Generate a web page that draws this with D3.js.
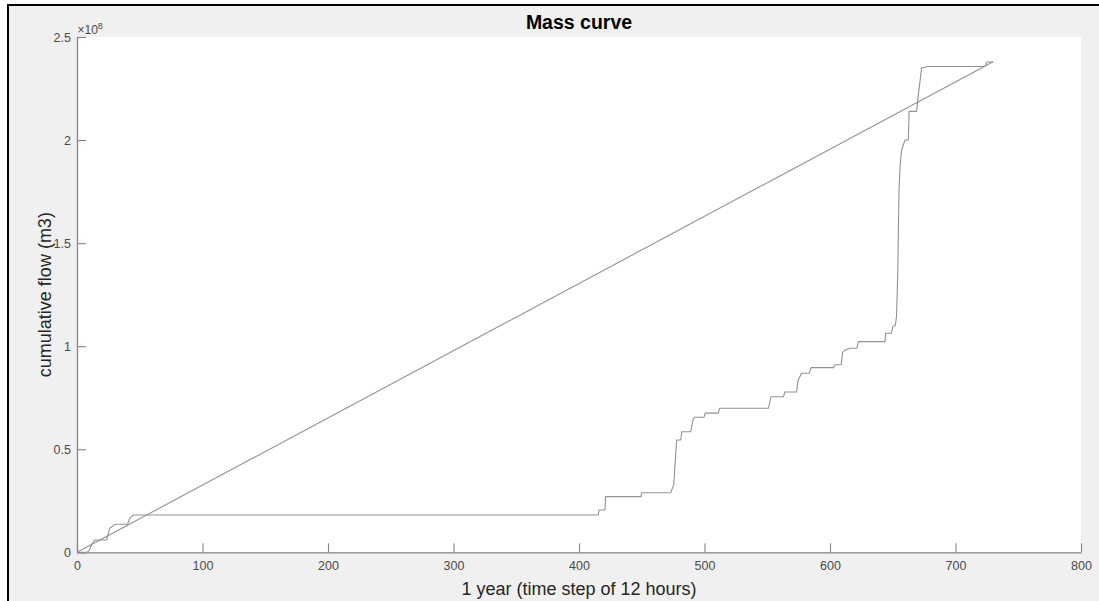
<!DOCTYPE html>
<html>
<head>
<meta charset="utf-8">
<script src="https://cdn.jsdelivr.net/npm/d3@7"></script>
<style>
  html, body { margin: 0; padding: 0; background: #ffffff; }
  svg { display: block; font-family: "Liberation Sans", Arial, Helvetica, sans-serif; }
</style>
</head>
<body>
<svg id="chart" width="1099" height="601"></svg>
<script>
// ---- data ----
const chartTitle = "Mass curve";
const xLabel = "1 year (time step of 12 hours)";
const yLabel = "cumulative flow (m3)";
const xTicks = [0, 100, 200, 300, 400, 500, 600, 700, 800];
const yTicks = [0, 0.5e8, 1e8, 1.5e8, 2e8, 2.5e8];
const yTickLabels = ["0", "0.5", "1", "1.5", "2", "2.5"];
const xDomain = [0, 800];
const yDomain = [0, 2.5e8];

// cumulative inflow (mass curve), time step index
const massStep = [0, 8, 10, 11.7, 14.3, 23.6, 26, 30.3, 40.3, 42, 44.9,
  415.4, 415.8, 420.7, 421.2, 449.4, 449.8, 473, 474.4, 475.5, 477.8,
  481, 482, 489, 491, 492, 499.6, 500.5, 511, 512, 551, 553, 563, 564,
  573.4, 574.5, 577.4, 583.5, 585, 603, 604, 609, 610, 612, 616, 621.5,
  622.5, 643.8, 644.3, 649, 650, 652, 653, 654, 655, 655.8, 657, 659.8,
  662.4, 663, 669, 670, 673, 678, 723.5, 725, 730];
const massFlow = [0, 0, 0.011e8, 0.039e8, 0.06e8, 0.06e8, 0.116e8, 0.136e8, 0.136e8, 0.165e8, 0.181e8,
  0.181e8, 0.205e8, 0.205e8, 0.27e8, 0.27e8, 0.289e8, 0.289e8, 0.31e8, 0.327e8, 0.545e8,
  0.545e8, 0.585e8, 0.585e8, 0.646e8, 0.655e8, 0.655e8, 0.675e8, 0.675e8, 0.699e8, 0.699e8, 0.755e8, 0.755e8, 0.778e8,
  0.778e8, 0.833e8, 0.869e8, 0.869e8, 0.896e8, 0.896e8, 0.91e8, 0.91e8, 0.97e8, 0.98e8, 0.99e8, 0.99e8,
  1.022e8, 1.022e8, 1.063e8, 1.063e8, 1.095e8, 1.1e8, 1.144e8, 1.354e8, 1.759e8, 1.87e8, 1.953e8, 2.0e8,
  2.0e8, 2.139e8, 2.139e8, 2.2e8, 2.35e8, 2.357e8, 2.357e8, 2.379e8, 2.379e8];

// uniform demand line
const demandStep = [0, 730];
const demandFlow = [0, 2.38e8];

// ---- layout ----
const svg = d3.select("#chart");
const W = 1099, H = 601;
const plot = { left: 77, right: 1081, top: 37, bottom: 552.3 };

// outer frame
svg.append("rect").attr("x", 0).attr("y", 0).attr("width", W).attr("height", H).attr("fill", "#ffffff");
svg.append("rect").attr("x", 8).attr("y", 5).attr("width", W - 8).attr("height", H - 5).attr("fill", "#f0f0f0");
svg.append("line").attr("x1", 8).attr("x2", W).attr("y1", 5).attr("y2", 5).attr("stroke", "#000").attr("stroke-width", 2);
svg.append("line").attr("x1", 8).attr("x2", 8).attr("y1", 4).attr("y2", H).attr("stroke", "#000").attr("stroke-width", 2);

// plot area
svg.append("rect").attr("x", plot.left).attr("y", plot.top)
  .attr("width", plot.right - plot.left).attr("height", plot.bottom - plot.top)
  .attr("fill", "#ffffff");

const x = d3.scaleLinear().domain(xDomain).range([plot.left, plot.right]);
const y = d3.scaleLinear().domain(yDomain).range([plot.bottom, plot.top]);

const axisColor = "#858585";
const tickTextColor = "#4a4a4a";

// x axis
const gx = svg.append("g").attr("transform", `translate(0,${plot.bottom})`)
  .call(d3.axisBottom(x).tickValues(xTicks).tickFormat(d3.format("d"))
    .tickSizeInner(-9).tickSizeOuter(0).tickPadding(9));
gx.select(".domain").attr("stroke", axisColor).attr("stroke-width", 1.3);
gx.selectAll(".tick line").attr("stroke", axisColor).attr("stroke-width", 1.1);
gx.selectAll(".tick text").attr("fill", tickTextColor).attr("font-size", 12.5)
  .attr("font-family", "Liberation Sans, Arial, sans-serif");

// y axis
const gy = svg.append("g").attr("transform", `translate(${plot.left},0)`)
  .call(d3.axisLeft(y).tickValues(yTicks).tickFormat((d, i) => yTickLabels[i])
    .tickSizeInner(-9).tickSizeOuter(0).tickPadding(6));
gy.select(".domain").attr("stroke", axisColor).attr("stroke-width", 1.3);
gy.selectAll(".tick line").attr("stroke", axisColor).attr("stroke-width", 1.1);
gy.selectAll(".tick text").attr("fill", tickTextColor).attr("font-size", 12.5)
  .attr("font-family", "Liberation Sans, Arial, sans-serif");

// exponent label
const expo = svg.append("text").attr("x", plot.left + 0.5).attr("y", plot.top - 3)
  .attr("fill", tickTextColor).attr("font-size", 12);
expo.append("tspan").text("\u00d710");
expo.append("tspan").attr("dy", -5).attr("font-size", 9).text("8");

// lines
const line = d3.line().x(d => x(d[0])).y(d => y(d[1]));
svg.append("path")
  .datum(demandStep.map((s, i) => [s, demandFlow[i]]))
  .attr("d", line).attr("fill", "none").attr("stroke", "#929292").attr("stroke-width", 1.1);
svg.append("path")
  .datum(massStep.map((s, i) => [s, massFlow[i]]))
  .attr("d", line).attr("fill", "none").attr("stroke", "#929292").attr("stroke-width", 1.1)
  .attr("stroke-linejoin", "round");

// title & labels
svg.append("text").attr("x", (plot.left + plot.right) / 2).attr("y", 29)
  .attr("text-anchor", "middle").attr("font-size", 19.5).attr("font-weight", "bold")
  .attr("fill", "#000").text(chartTitle);
svg.append("text").attr("x", (plot.left + plot.right) / 2).attr("y", 595)
  .attr("text-anchor", "middle").attr("font-size", 18).attr("fill", "#262626").text(xLabel);
svg.append("text").attr("transform", `translate(51,${(plot.top + plot.bottom) / 2}) rotate(-90)`)
  .attr("text-anchor", "middle").attr("font-size", 18).attr("fill", "#262626").text(yLabel);
</script>
</body>
</html>
